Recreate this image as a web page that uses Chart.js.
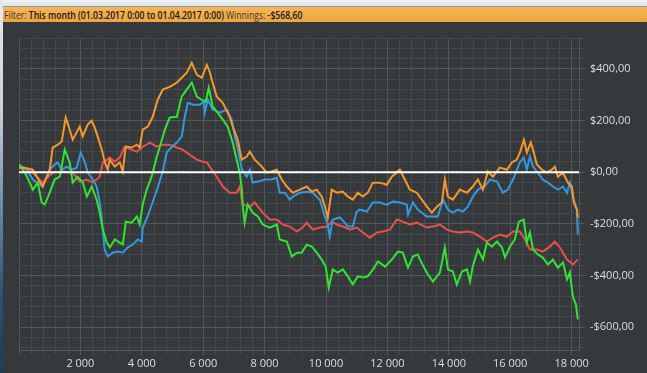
<!DOCTYPE html>
<html>
<head>
<meta charset="utf-8">
<script src="https://cdn.jsdelivr.net/npm/chart.js"></script>
<style>
    html, body { margin: 0; padding: 0; }
    body {
        width: 647px; height: 373px; overflow: hidden; position: relative;
        background: #36393c;
        font-family: "Open Sans", "Liberation Sans", sans-serif;
    }
    #top-strip {
        position: absolute; left: 0; top: 0; width: 647px; height: 7px;
        background: linear-gradient(#eef3f8, #dde4ea);
        border-bottom: 1px solid #8d949b; box-sizing: border-box;
    }
    #left-strip {
        position: absolute; left: 0; top: 0; width: 3px; height: 373px;
        background: linear-gradient(#e4e9ee, #c9d2da 30%, #6f8aa8 55%, #2d4d78 80%, #1f3a62);
    }
    #filter-bar {
        position: absolute; left: 3px; top: 7px; width: 644px; height: 15px;
        background: linear-gradient(#f6b652, #eca43f);
        font-size: 11px; line-height: 15px; color: #3a3a3a;
        padding-left: 1px; box-sizing: border-box; white-space: nowrap; overflow: hidden;
    }
    #filter-text { display: inline-block; transform-origin: 0 50%; }
    #filter-bar b { color: #151515; font-weight: 600; }
    #wrap { position: absolute; left: 0; top: 0; width: 647px; height: 373px; }
</style>
</head>
<body>
<div id="wrap"><canvas id="bieu-do" width="647" height="373"></canvas></div>
<div id="top-strip"></div>
<div id="left-strip"></div>
<div id="filter-bar"><span id="filter-text">Filter: <b>This month (01.03.2017 0:00 to 01.04.2017 0:00)</b> Winnings: <b>-$568,60</b></span></div>
<script>
// so tay (hands) va tien thang ($) cua tung duong
const netHands = [0,190,350,450,610,740,840,1000,1160,1330,1490,1650,1750,1910,2080,2210,2370,2530,2630,2730,2860,2960,3120,3280,3380,3480,3670,3840,3930,4030,4160,4320,4490,4580,4750,4910,5140,5300,5460,5630,5790,5950,6080,6180,6310,6470,6640,6800,6960,7090,7190,7260,7290,7350,7450,7610,7780,7940,8170,8400,8490,8720,8890,9050,9210,9370,9540,9700,9860,9990,10090,10220,10380,10550,10710,10870,11040,11200,11360,11530,11690,11920,12140,12340,12500,12670,12830,12990,13060,13280,13480,13710,13870,13970,14130,14260,14430,14590,14690,14780,14950,15110,15240,15400,15570,15730,15830,15990,16150,16280,16440,16540,16640,16740,16900,17060,17230,17390,17550,17720,17850,17940,18040,18140,18200];
const netWon = [30,-1,-40,-67,-40,-117,-125,-79,-28,-17,88,38,-40,-17,-40,-94,-55,-106,-156,-222,-272,-291,-260,-272,-280,-191,-195,-171,-202,-125,-67,-17,61,96,165,212,215,293,320,347,293,281,273,328,254,231,204,177,115,49,-1,-67,-133,-195,-125,-156,-171,-202,-214,-202,-260,-268,-326,-311,-311,-280,-288,-311,-338,-365,-446,-376,-388,-376,-403,-434,-403,-407,-403,-376,-345,-365,-338,-307,-311,-369,-326,-318,-338,-388,-423,-388,-291,-376,-384,-434,-384,-376,-423,-365,-299,-338,-272,-288,-268,-291,-330,-288,-260,-191,-183,-272,-233,-299,-318,-330,-357,-338,-369,-349,-415,-388,-481,-512,-569];

const evHands = [0,186,446,772,1000,1098,1261,1391,1521,1651,1750,1978,2075,2238,2369,2466,2564,2694,2792,2890,2955,3118,3281,3379,3476,3672,3835,3932,4030,4193,4356,4519,4682,4910,5138,5301,5464,5627,5789,5952,6115,6213,6278,6441,6636,6864,6962,7125,7255,7418,7516,7679,7907,8070,8233,8396,8559,8722,8917,9145,9373,9536,9699,9862,9993,10058,10188,10351,10547,10710,10873,11036,11199,11362,11525,11753,11981,12144,12404,12567,12730,12959,13284,13447,13610,13773,13871,13969,14132,14360,14588,14783,14946,15109,15272,15435,15663,15891,16053,16216,16314,16444,16542,16672,16770,16867,17030,17193,17356,17454,17552,17715,17878,18008,18073,18171,18203];
const evWon = [18,18,10,-55,10,96,107,119,212,165,126,177,139,185,200,173,138,88,41,10,49,22,38,3,99,96,107,96,165,177,215,281,320,331,347,366,386,424,378,366,416,389,358,293,269,215,177,126,49,61,80,49,22,-1,3,10,-28,-55,-79,-67,-55,-75,-67,-94,-144,-175,-67,-79,-75,-94,-106,-79,-94,-79,-40,-40,-48,-17,10,-28,-67,-79,-133,-156,-133,-117,-28,-94,-106,-67,-79,-55,-28,-67,3,-17,18,10,38,49,76,126,76,115,76,30,10,-1,10,22,-17,-1,-40,-55,-117,-144,-175];

const sdHands = [0,250,450,770,1000,1160,1260,1390,1550,1720,1880,2010,2140,2240,2400,2530,2630,2690,2790,2890,3050,3220,3380,3540,3700,3870,4000,4030,4190,4360,4520,4680,4810,4980,5140,5300,5400,5500,5660,5890,6020,6050,6150,6310,6540,6770,6930,7030,7130,7260,7420,7520,7610,7780,8010,8230,8400,8490,8660,8820,8920,9150,9370,9570,9800,9960,10060,10120,10220,10450,10610,10710,10870,11000,11100,11330,11530,11750,11980,12180,12400,12630,12670,12830,12990,13280,13480,13640,13810,13970,14130,14300,14460,14620,14780,14950,15170,15340,15570,15760,15920,16090,16220,16310,16440,16540,16640,16740,16900,17060,17230,17390,17550,17720,17850,17940,18040,18170,18200];
const sdWon = [30,10,-28,-55,10,30,38,10,22,10,18,76,41,-1,-28,-55,-117,-171,-299,-326,-311,-307,-311,-291,-280,-260,-268,-214,-171,-113,-59,3,76,99,115,138,215,269,262,262,273,231,281,243,231,243,204,138,88,10,-17,10,-40,-36,-28,-28,-21,-79,-79,-106,-94,-79,-75,-79,-106,-171,-202,-249,-183,-175,-195,-210,-210,-152,-144,-152,-117,-117,-125,-113,-117,-125,-164,-117,-144,-171,-171,-171,-106,-144,-156,-144,-152,-133,-94,-67,-55,-28,-36,-79,-67,-28,10,38,57,10,61,22,-1,-28,-40,-55,-67,-55,-79,-40,-94,-144,-241];

const nsdHands = [0,450,770,1100,1420,1750,1980,2210,2400,2630,2730,2960,3120,3280,3440,3670,3840,4030,4260,4490,4680,4910,5140,5330,5560,5790,5990,6120,6280,6440,6640,6860,7090,7190,7290,7520,7680,7780,7940,8170,8400,8590,8820,9050,9240,9370,9570,9800,10030,10190,10350,10550,10780,11000,11200,11430,11660,11850,12080,12310,12500,12730,12960,13280,13480,13710,13940,14130,14360,14590,14780,15010,15240,15440,15660,15890,16090,16310,16480,16640,16870,17060,17290,17450,17620,17850,18040,18200];
const nsdWon = [22,-1,-40,-1,3,-1,-36,-28,-40,-17,38,57,41,57,99,88,80,99,115,99,107,107,96,88,68,49,41,38,10,-17,-55,-79,-79,-55,-125,-133,-117,-133,-156,-183,-183,-202,-210,-229,-214,-195,-222,-214,-210,-191,-202,-210,-222,-214,-233,-253,-233,-229,-222,-183,-191,-202,-195,-214,-210,-202,-222,-229,-233,-229,-233,-249,-268,-253,-241,-249,-229,-229,-260,-299,-299,-307,-288,-268,-291,-338,-357,-338];

// thanh loc phia tren: ep chu vua chieu rong nhu anh goc
const filterText = document.getElementById('filter-text');
filterText.style.transform = 'scaleX(' + (298 / filterText.offsetWidth) + ')';

function ghepDiem(hands, won) {
    return hands.map((h, i) => ({ x: h, y: won[i] }));
}

function formatDollar(v) {
    const s = '$' + Math.abs(v).toFixed(2).replace('.', ',');
    return v < 0 ? '-' + s : s;
}

function formatHands(v) {
    return String(v).replace(/\B(?=(\d{3})+(?!\d))/g, ' ');
}

const mauLuoiPhu = '#46494c';
const mauLuoiChinh = '#56595c';
const fontTruc = { family: '"Open Sans", "Liberation Sans", sans-serif', size: 11 };

// duong trang tai $0 ve de len tren cac duong
const zeroLine = {
    id: 'zeroLine',
    afterDatasetsDraw(chart) {
        const y = chart.scales.y.getPixelForValue(0);
        const a = chart.chartArea;
        const ctx = chart.ctx;
        ctx.save();
        ctx.strokeStyle = '#ffffff';
        ctx.lineWidth = 2;
        ctx.beginPath();
        ctx.moveTo(a.left, y);
        ctx.lineTo(a.right, y);
        ctx.stroke();
        ctx.restore();
    }
};

function taoDataset(label, hands, won, color, order) {
    return {
        label: label,
        data: ghepDiem(hands, won),
        borderColor: color,
        borderWidth: 2,
        pointRadius: 0,
        tension: 0,
        fill: false,
        order: order
    };
}

const ctx = document.getElementById('bieu-do').getContext('2d');
new Chart(ctx, {
    type: 'line',
    data: {
        datasets: [
            taoDataset('All-in EV', evHands, evWon, '#f7962a', 1),
            taoDataset('Net won', netHands, netWon, '#33e333', 2),
            taoDataset('Showdown', sdHands, sdWon, '#3498de', 3),
            taoDataset('Non-showdown', nsdHands, nsdWon, '#e9504c', 4)
        ]
    },
    options: {
        responsive: false,
        animation: false,
        layout: { padding: { left: 19, top: 38, right: 0, bottom: 0 } },
        plugins: {
            legend: { display: false },
            tooltip: { enabled: false }
        },
        scales: {
            x: {
                type: 'linear',
                min: 0,
                max: 18240,
                afterBuildTicks: scale => {
                    const t = [];
                    for (let v = 0; v <= scale.max; v += 400) t.push({ value: v });
                    scale.ticks = t;
                },
                afterFit: scale => { scale.height = 23; },
                ticks: {
                    autoSkip: false,
                    maxRotation: 0,
                    padding: 2,
                    color: '#dcdfe2',
                    font: fontTruc,
                    callback: v => (v % 2000 === 0 && v !== 0) ? formatHands(v) : ''
                },
                grid: {
                    color: c => (c.tick && c.tick.value % 2000 === 0) ? mauLuoiChinh : mauLuoiPhu,
                    tickColor: c => (c.tick && c.tick.value % 2000 === 0) ? mauLuoiChinh : mauLuoiPhu,
                    tickLength: 5,
                    lineWidth: 1
                },
                border: { display: true, color: mauLuoiChinh, width: 1 }
            },
            y: {
                type: 'linear',
                position: 'right',
                min: -688,
                max: 520,
                afterBuildTicks: scale => {
                    const t = [];
                    for (let v = Math.ceil(scale.min / 40) * 40; v <= scale.max; v += 40) t.push({ value: v });
                    scale.ticks = t;
                },
                afterFit: scale => { scale.width = 68; },
                ticks: {
                    autoSkip: false,
                    padding: 5,
                    color: '#dcdfe2',
                    font: fontTruc,
                    callback: v => (v % 200 === 0) ? formatDollar(v) : ''
                },
                grid: {
                    color: c => (c.tick && c.tick.value % 200 === 0) ? mauLuoiChinh : mauLuoiPhu,
                    tickColor: c => (c.tick && c.tick.value % 200 === 0) ? mauLuoiChinh : mauLuoiPhu,
                    tickLength: 6,
                    lineWidth: 1
                },
                border: { display: true, color: mauLuoiChinh, width: 1 }
            }
        }
    },
    plugins: [zeroLine]
});
</script>
</body>
</html>
